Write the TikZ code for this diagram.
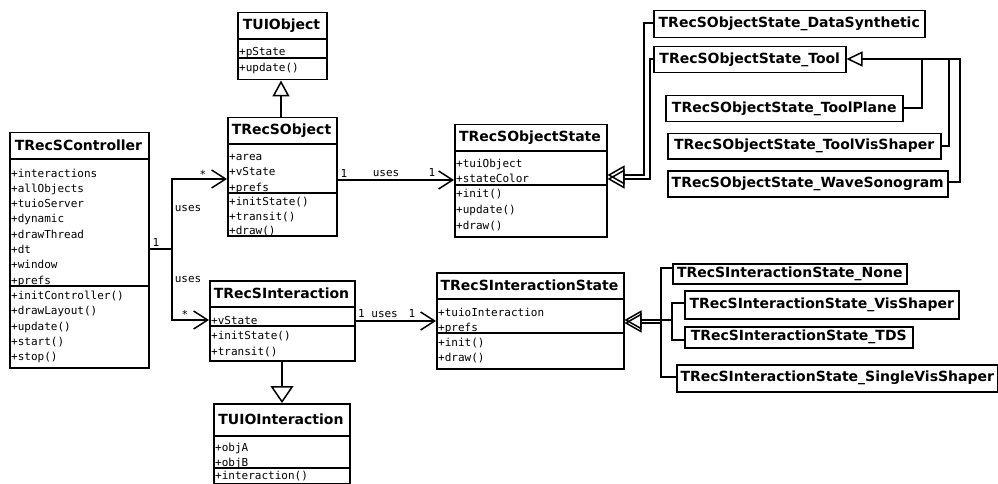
\documentclass[tikz,border=0pt]{standalone}
\usepackage{fontspec}
\setmainfont{DejaVu Sans}
\newfontfamily\monof{DejaVu Sans Mono}
\usetikzlibrary{arrows.meta}
\tikzset{
 lw/.style={line width=1.5pt},
 classbox/.style={draw, line width=1.5pt, inner sep=0pt, anchor=north west},
 title/.style={font=\bfseries\fontsize{14}{16}\selectfont, inner sep=0pt},
 member/.style={font=\monof\fontsize{11}{13}\selectfont, inner sep=0pt, anchor=base west},
 lbl/.style={font=\monof\fontsize{11}{13}\selectfont, inner sep=0pt, anchor=base},
 leaf/.style={draw, line width=1.5pt, inner sep=0pt, anchor=north west, font=\bfseries\fontsize{14}{16}\selectfont},
 sep/.style={line width=1.5pt},
 usearrow/.style={line width=1.5pt, -{Straight Barb[length=14pt,width=18pt]}},
 inh/.style={line width=1.5pt, -{Triangle[open,length=16pt,width=17pt]}},
 inhbig/.style={line width=1.5pt, -{Triangle[open,length=17pt,width=23pt]}},
 inhtwo/.style={line width=1.5pt, -{Triangle[open,length=17pt,width=19pt]}},
 inhsmall/.style={line width=1.5pt, -{Triangle[open,length=16pt,width=15pt]}},
}
\newcommand\cbox[5]{\node[classbox, minimum width={(#4-#2)*1pt}, minimum height={(#5-#3)*1pt}] (#1) at (#2,#3) {};}
\begin{document}
\begin{tikzpicture}[x=1pt,y=-1pt]
\useasboundingbox (0,0) rectangle (998,484);

% ---------- TRecSController
\cbox{ctrl}{9}{132}{148}{367}
\draw[sep] (ctrl.west |- 0,159) -- (ctrl.east |- 0,159);
\draw[sep] (ctrl.west |- 0,286) -- (ctrl.east |- 0,286);
\node[title] (ctrlt) at (78.5,145.5) {TRecSController};
\foreach \t [count=\i] in {+interactions,+allObjects,+tuioServer,+dynamic,+drawThread,+dt,+window,+prefs}
  \node[member] (ctrla\i) at (11,{177+15.3*(\i-1)}) {\t};
\foreach \t [count=\i] in {+initController(),+drawLayout(),+update(),+start(),+stop()}
  \node[member] (ctrlm\i) at (11,{299.5+15.3*(\i-1)}) {\t};

% ---------- TUIObject
\cbox{tuiobj}{237}{12}{326}{79}
\draw[sep] (tuiobj.west |- 0,39) -- (tuiobj.east |- 0,39);
\draw[sep] (tuiobj.west |- 0,58) -- (tuiobj.east |- 0,58);
\node[title] (tuiobjt) at (281.5,25.5) {TUIObject};
\node[member] (tuiobja1) at (239,56) {+pState};
\node[member] (tuiobjm1) at (239,71.5) {+update()};

% ---------- TRecSObject
\cbox{obj}{227}{117}{336}{235}
\draw[sep] (obj.west |- 0,144) -- (obj.east |- 0,144);
\draw[sep] (obj.west |- 0,193) -- (obj.east |- 0,193);
\node[title] (objt) at (281.5,130.5) {TRecSObject};
\foreach \t [count=\i] in {+area,+vState,+prefs}
  \node[member] (obja\i) at (229,{160.5+15.25*(\i-1)}) {\t};
\foreach \t [count=\i] in {+initState(),+transit(),+draw()}
  \node[member] (objm\i) at (229,{205.5+14.5*(\i-1)}) {\t};

% ---------- TRecSObjectState
\cbox{ostate}{454}{124}{606}{236}
\draw[sep] (ostate.west |- 0,151) -- (ostate.east |- 0,151);
\draw[sep] (ostate.west |- 0,185) -- (ostate.east |- 0,185);
\node[title] (ostatet) at (530,137.5) {TRecSObjectState};
\node[member] (ostatea1) at (456,167) {+tuiObject};
\node[member] (ostatea2) at (456,182.5) {+stateColor};
\foreach \t [count=\i] in {+init(),+update(),+draw()}
  \node[member] (ostatem\i) at (456,{197+16*(\i-1)}) {\t};

% ---------- TRecSInteraction
\cbox{inter}{209}{280}{354}{360}
\draw[sep] (inter.west |- 0,307) -- (inter.east |- 0,307);
\draw[sep] (inter.west |- 0,326) -- (inter.east |- 0,326);
\node[title] (intert) at (281.5,293.5) {TRecSInteraction};
\node[member] (intera1) at (211,324) {+vState};
\node[member] (interm1) at (211,339) {+initState()};
\node[member] (interm2) at (211,355) {+transit()};

% ---------- TUIOInteraction
\cbox{tuioi}{213}{403}{349}{483}
\draw[sep] (tuioi.west |- 0,436) -- (tuioi.east |- 0,436);
\draw[sep] (tuioi.west |- 0,468) -- (tuioi.east |- 0,468);
\node[title] (tuioit) at (281,419.5) {TUIOInteraction};
\node[member] (tuioia1) at (215,451) {+objA};
\node[member] (tuioia2) at (215,466) {+objB};
\node[member] (tuioim1) at (215,479.5) {+interaction()};

% ---------- TRecSInteractionState
\cbox{istate}{436}{272}{623}{368}
\draw[sep] (istate.west |- 0,299) -- (istate.east |- 0,299);
\draw[sep] (istate.west |- 0,333) -- (istate.east |- 0,333);
\node[title] (istatet) at (529.5,285.5) {TRecSInteractionState};
\node[member] (istatea1) at (438,316) {+tuioInteraction};
\node[member] (istatea2) at (438,331) {+prefs};
\node[member] (istatem1) at (438,346) {+init()};
\node[member] (istatem2) at (438,361) {+draw()};

% ---------- leaf classes
\node[leaf, minimum width=271pt, minimum height=27pt] (ds) at (653,10) {TRecSObjectState\_DataSynthetic};
\node[leaf, minimum width=192pt, minimum height=26pt] (tool) at (653,46) {TRecSObjectState\_Tool};
\node[leaf, minimum width=237pt, minimum height=26pt] (plane) at (665,95) {TRecSObjectState\_ToolPlane};
\node[leaf, minimum width=273pt, minimum height=25pt] (tvis) at (667,133) {TRecSObjectState\_ToolVisShaper};
\node[leaf, minimum width=280pt, minimum height=26pt] (wave) at (667,170) {TRecSObjectState\_WaveSonogram};
\node[leaf, minimum width=234pt, minimum height=20pt] (none) at (672,263) {TRecSInteractionState\_None};
\node[leaf, minimum width=274pt, minimum height=28pt] (ivis) at (684,290) {TRecSInteractionState\_VisShaper};
\node[leaf, minimum width=228pt, minimum height=21pt] (tds) at (684,326) {TRecSInteractionState\_TDS};
\node[leaf, minimum width=321pt, minimum height=27pt] (single) at (676,364) {TRecSInteractionState\_SingleVisShaper};

% ---------- connectors: controller uses objects / interactions
\coordinate (j) at (172,249);
\draw[lw] (ctrl.east |- j) -- (j);
\draw[usearrow] (j) |- (obj.west |- 0,179);
\draw[usearrow] (j) |- (inter.west |- 0,320);
\node[lbl] (l1) at (156,246) {1};
\node[lbl] (l2) at (188,211) {uses};
\node[lbl] (l3) at (188,282) {uses};
\node[lbl] (l4) at (203,178) {*};
\node[lbl] (l5) at (185,318) {*};

% object uses object state
\draw[usearrow] (obj.east |- 0,180) -- (ostate.west |- 0,180);
\node[lbl] (l6) at (344,177) {1};
\node[lbl] (l7) at (386,176) {uses};
\node[lbl] (l8) at (432,176) {1};

% interaction uses interaction state
\draw[usearrow] (inter.east |- 0,321) -- (istate.west |- 0,321);
\node[lbl] (l9) at (378,317) {1 uses};
\node[lbl] (l10) at (412,317) {1};

% inheritance
\draw[inh] (obj.north -| 281,0) -- (tuiobj.south -| 281,0);
\draw[inhbig] (inter.south -| 282,0) -- (tuioi.north -| 282,0);

\draw[inhtwo] (ds.west |- 0,23) -- (644,23) -- (644,175) -- (ostate.east |- 0,175);
\draw[inhtwo] (tool.west |- 0,59) -- (650,59) -- (650,179) -- (ostate.east |- 0,179);

\draw[inhsmall] (wave.east |- 0,182) -- (960,182) -- (960,59) -- (tool.east |- 0,59);
\draw[lw] (plane.east |- 0,108) -| (922,59);
\draw[lw] (tvis.east |- 0,146) -| (949,59);

\draw[lw] (none.west |- 0,268) -| (661,377) -- (single.west |- 0,377);
\draw[lw] (ivis.west |- 0,303) -| (672,340) -- (tds.west |- 0,340);
\draw[inhtwo] (672,320) -- (istate.east |- 0,320);
\draw[inhtwo] (661,323) -- (istate.east |- 0,323);
\end{tikzpicture}
\end{document}
